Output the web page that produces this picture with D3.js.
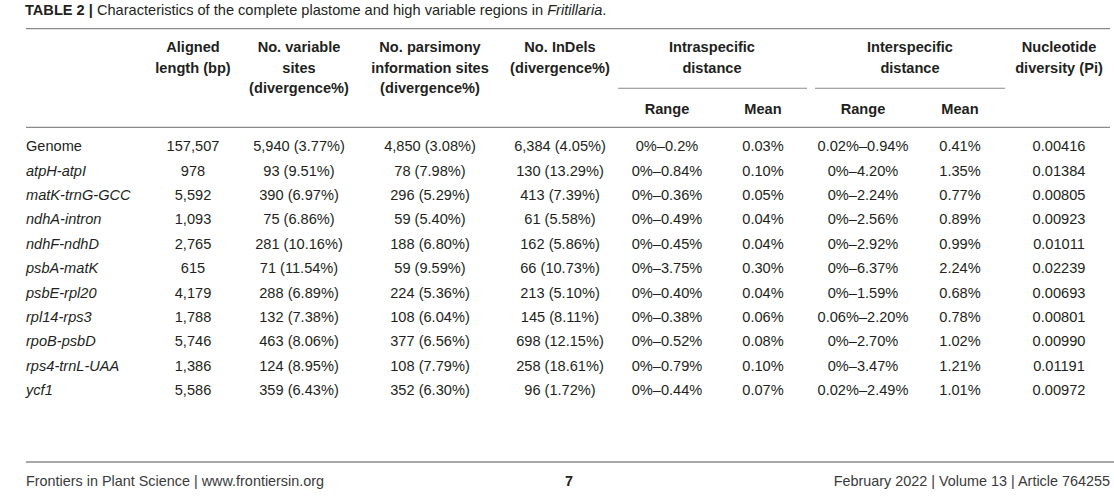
<!DOCTYPE html>
<html><head><meta charset="utf-8">
<script src="https://cdn.jsdelivr.net/npm/d3@7/dist/d3.min.js"></script>
<style>
html,body{margin:0;padding:0;background:#fff;}
svg{display:block;font-family:"Liberation Sans",Arial,Helvetica,sans-serif;}
</style></head>
<body><svg id="c" width="1114" height="497"></svg>
<script>
const regions = ["Genome","atpH-atpI","matK-trnG-GCC","ndhA-intron","ndhF-ndhD","psbA-matK","psbE-rpl20","rpl14-rps3","rpoB-psbD","rps4-trnL-UAA","ycf1"];
const alignedLength = ["157,507","978","5,592","1,093","2,765","615","4,179","1,788","5,746","1,386","5,586"];
const variableSites = ["5,940 (3.77%)","93 (9.51%)","390 (6.97%)","75 (6.86%)","281 (10.16%)","71 (11.54%)","288 (6.89%)","132 (7.38%)","463 (8.06%)","124 (8.95%)","359 (6.43%)"];
const parsimonySites = ["4,850 (3.08%)","78 (7.98%)","296 (5.29%)","59 (5.40%)","188 (6.80%)","59 (9.59%)","224 (5.36%)","108 (6.04%)","377 (6.56%)","108 (7.79%)","352 (6.30%)"];
const indels = ["6,384 (4.05%)","130 (13.29%)","413 (7.39%)","61 (5.58%)","162 (5.86%)","66 (10.73%)","213 (5.10%)","145 (8.11%)","698 (12.15%)","258 (18.61%)","96 (1.72%)"];
const intraRange = ["0%–0.2%","0%–0.84%","0%–0.36%","0%–0.49%","0%–0.45%","0%–3.75%","0%–0.40%","0%–0.38%","0%–0.52%","0%–0.79%","0%–0.44%"];
const intraMean = ["0.03%","0.10%","0.05%","0.04%","0.04%","0.30%","0.04%","0.06%","0.08%","0.10%","0.07%"];
const interRange = ["0.02%–0.94%","0%–4.20%","0%–2.24%","0%–2.56%","0%–2.92%","0%–6.37%","0%–1.59%","0.06%–2.20%","0%–2.70%","0%–3.47%","0.02%–2.49%"];
const interMean = ["0.41%","1.35%","0.77%","0.89%","0.99%","2.24%","0.68%","0.78%","1.02%","1.21%","1.01%"];
const pi = ["0.00416","0.01384","0.00805","0.00923","0.01011","0.02239","0.00693","0.00801","0.00990","0.01191","0.00972"];

const headers = [
  {key:"len", lines:["Aligned","length (bp)"]},
  {key:"var", lines:["No. variable","sites","(divergence%)"]},
  {key:"par", lines:["No. parsimony","information sites","(divergence%)"]},
  {key:"ind", lines:["No. InDels","(divergence%)"]},
  {key:"intra", lines:["Intraspecific","distance"]},
  {key:"inter", lines:["Interspecific","distance"]},
  {key:"pi", lines:["Nucleotide","diversity (Pi)"]}
];
const subHeaders = [{key:"intraR",t:"Range"},{key:"intraM",t:"Mean"},{key:"interR",t:"Range"},{key:"interM",t:"Mean"}];

const columns = [
  {key:"len", vals:alignedLength},
  {key:"var", vals:variableSites},
  {key:"par", vals:parsimonySites},
  {key:"ind", vals:indels},
  {key:"intraR", vals:intraRange},
  {key:"intraM", vals:intraMean},
  {key:"interR", vals:interRange},
  {key:"interM", vals:interMean},
  {key:"pi", vals:pi}
];

const svg = d3.select("#c");
const ink = "#231f20", rule = "#8a8a8a";
const left = 26, right = 1110;
const fs = 14.6;

const x = d3.scaleOrdinal()
  .domain(["len","var","par","ind","intra","intraR","intraM","inter","interR","interM","pi"])
  .range([193,299,430,560,712,667,763,910,863,960,1059]);
const groupSpan = {intra:[618,807], inter:[815,1005]};

const y = d3.scalePoint().domain(regions).range([146,390]);

// Title
const title = svg.append("text").attr("x",25).attr("y",10).attr("dy","0.36em").attr("font-size",14.6).attr("fill",ink);
title.append("tspan").attr("font-weight","bold").text("TABLE 2 | ");
title.append("tspan").text("Characteristics of the complete plastome and high variable regions in ");
title.append("tspan").attr("font-style","italic").text("Fritillaria");
title.append("tspan").text(".");

// Rules
svg.append("line").attr("x1",left).attr("x2",right).attr("y1",28.7).attr("y2",28.7).attr("stroke",rule).attr("stroke-width",1.3);
svg.append("line").attr("x1",left).attr("x2",right).attr("y1",127.3).attr("y2",127.3).attr("stroke",rule).attr("stroke-width",1.3);
Object.values(groupSpan).forEach(s=>{
  svg.append("line").attr("x1",s[0]).attr("x2",s[1]).attr("y1",88.3).attr("y2",88.3).attr("stroke",rule).attr("stroke-width",1.1);
});

// Headers
const hy = [47,67.5,88];
headers.forEach(h=>{
  h.lines.forEach((ln,i)=>{
    svg.append("text").attr("x",x(h.key)).attr("y",hy[i]).attr("dy","0.36em")
      .attr("text-anchor","middle").attr("font-weight","bold").attr("font-size",fs).attr("fill",ink).text(ln);
  });
});
subHeaders.forEach(s=>{
  svg.append("text").attr("x",x(s.key)).attr("y",109).attr("dy","0.36em")
    .attr("text-anchor","middle").attr("font-weight","bold").attr("font-size",fs).attr("fill",ink).text(s.t);
});

// Row labels
svg.append("g").selectAll("text").data(regions).join("text")
  .attr("x",left).attr("y",d=>y(d)).attr("dy","0.36em")
  .attr("font-size",fs).attr("fill",ink)
  .attr("font-style",(d,i)=>i===0?"normal":"italic")
  .text(d=>d);

// Cells
columns.forEach(c=>{
  svg.append("g").selectAll("text").data(c.vals).join("text")
    .attr("x",x(c.key)).attr("y",(d,i)=>y(regions[i])).attr("dy","0.36em")
    .attr("text-anchor","middle").attr("font-size",fs).attr("fill",ink).text(d=>d);
});

// Footer
svg.append("line").attr("x1",left).attr("x2",1114).attr("y1",462).attr("y2",462).attr("stroke","#a8a8a8").attr("stroke-width",2);
svg.append("text").attr("x",left).attr("y",481).attr("dy","0.36em").attr("font-size",14.4).attr("fill","#3a3a3a")
  .text("Frontiers in Plant Science | www.frontiersin.org");
svg.append("text").attr("x",569).attr("y",481).attr("dy","0.36em").attr("text-anchor","middle").attr("font-size",14.4).attr("font-weight","bold").attr("fill",ink).text("7");
svg.append("text").attr("x",1110).attr("y",481).attr("dy","0.36em").attr("text-anchor","end").attr("font-size",14.4).attr("fill","#3a3a3a")
  .text("February 2022 | Volume 13 | Article 764255");
</script></body></html>
